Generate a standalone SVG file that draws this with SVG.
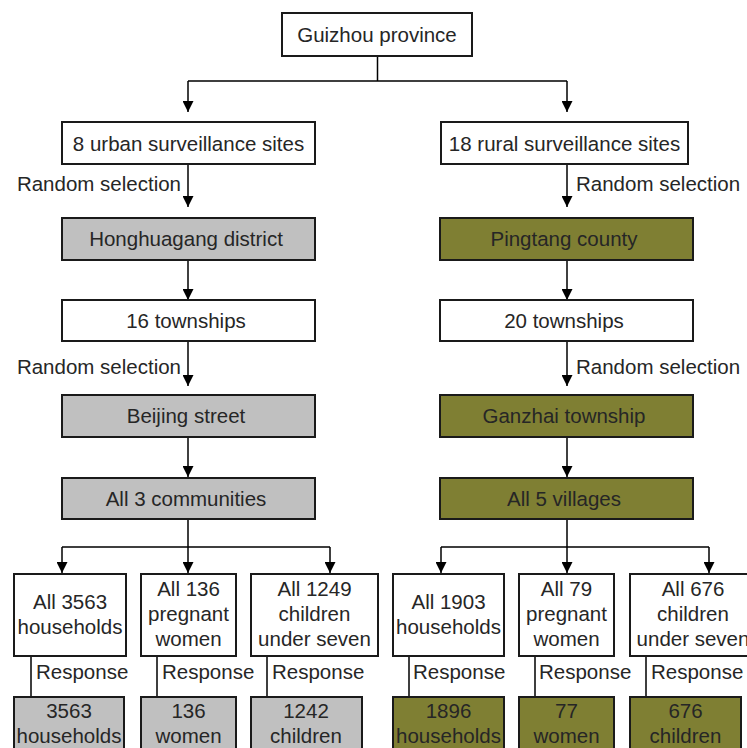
<svg xmlns="http://www.w3.org/2000/svg" width="747" height="748" viewBox="0 0 747 748">
<defs>
<marker id="ah" viewBox="0 0 11 11" refX="11" refY="5.5" markerWidth="11" markerHeight="11" markerUnits="userSpaceOnUse" orient="auto">
<path d="M0,0 L11,5.5 L0,11 Z" fill="#000"/>
</marker>
<style>
.b{stroke:#1a1a1a;stroke-width:2}
.w{fill:#fff}
.g{fill:#c0c0c0}
.o{fill:#7f7f33}
text{font-family:"Liberation Sans",Arial,sans-serif;font-size:20.5px;fill:#262626}
.c{text-anchor:middle}
.e{text-anchor:end}
.ln{fill:none;stroke:#000;stroke-width:1.5}
.ar{fill:none;stroke:#000;stroke-width:1.5}
</style>
</defs>
<rect width="747" height="748" fill="#fff"/>

<g id="connectors">
<path class="ln" d="M377.5,56 V81 M188,81 H567"/>
<path class="ar" d="M188,81 V112" marker-end="url(#ah)"/>
<path class="ar" d="M567,81 V112" marker-end="url(#ah)"/>
<path class="ar" d="M188,164 V207" marker-end="url(#ah)"/>
<path class="ar" d="M567,164 V207" marker-end="url(#ah)"/>
<path class="ar" d="M188,260 V300" marker-end="url(#ah)"/>
<path class="ar" d="M567,260 V300" marker-end="url(#ah)"/>
<path class="ar" d="M188,341 V386" marker-end="url(#ah)"/>
<path class="ar" d="M567,341 V386" marker-end="url(#ah)"/>
<path class="ar" d="M188,437 V477" marker-end="url(#ah)"/>
<path class="ar" d="M567,437 V477" marker-end="url(#ah)"/>
<path class="ln" d="M188,519 V547 M62,547 H330"/>
<path class="ln" d="M567,519 V547 M441,547 H709"/>
<path class="ar" d="M62,547 V573" marker-end="url(#ah)"/>
<path class="ar" d="M188,547 V573" marker-end="url(#ah)"/>
<path class="ar" d="M330,547 V573" marker-end="url(#ah)"/>
<path class="ar" d="M441,547 V573" marker-end="url(#ah)"/>
<path class="ar" d="M567,547 V573" marker-end="url(#ah)"/>
<path class="ar" d="M709,547 V573" marker-end="url(#ah)"/>
<path class="ln" d="M31,656 V697 M157,656 V697 M267,656 V697 M409,656 V697 M535,656 V697 M646,656 V697"/>
<text class="e" x="181" y="191">Random selection</text>
<text x="576" y="191">Random selection</text>
<text class="e" x="181" y="374">Random selection</text>
<text x="576" y="374">Random selection</text>
<text x="36" y="679">Response</text>
<text x="162" y="679">Response</text>
<text x="272" y="679">Response</text>
<text x="413" y="679">Response</text>
<text x="539" y="679">Response</text>
<text x="651" y="679">Response</text>
</g>

<g id="guizhou"><rect class="b w" x="282" y="13" width="190" height="43"/><text class="c" x="377" y="42">Guizhou province</text></g>

<g id="urban"><rect class="b w" x="62" y="122" width="253" height="42"/><text class="c" x="188.5" y="151">8 urban surveillance sites</text></g>
<g id="rural"><rect class="b w" x="441" y="122" width="247" height="42"/><text class="c" x="564.5" y="151">18 rural surveillance sites</text></g>

<g id="honghuagang"><rect class="b g" x="62" y="218" width="253" height="42"/><text class="c" x="186" y="246">Honghuagang district</text></g>
<g id="pingtang"><rect class="b o" x="440" y="218" width="253" height="42"/><text class="c" x="564" y="246">Pingtang county</text></g>

<g id="townships16"><rect class="b w" x="62" y="300" width="253" height="41"/><text class="c" x="186" y="328">16 townships</text></g>
<g id="townships20"><rect class="b w" x="440" y="300" width="253" height="41"/><text class="c" x="564" y="328">20 townships</text></g>

<g id="beijing"><rect class="b g" x="62" y="395" width="253" height="42"/><text class="c" x="186" y="423">Beijing street</text></g>
<g id="ganzhai"><rect class="b o" x="440" y="395" width="253" height="42"/><text class="c" x="564" y="423">Ganzhai township</text></g>

<g id="communities"><rect class="b g" x="62" y="478" width="253" height="41"/><text class="c" x="186" y="506">All 3 communities</text></g>
<g id="villages"><rect class="b o" x="440" y="478" width="253" height="41"/><text class="c" x="564" y="506">All 5 villages</text></g>

<g id="u-households"><rect class="b w" x="14" y="574" width="112" height="82"/><text class="c" x="70" y="609">All 3563</text><text class="c" x="70" y="634">households</text></g>
<g id="u-women"><rect class="b w" x="141" y="574" width="95" height="82"/><text class="c" x="188.5" y="596">All 136</text><text class="c" x="188.5" y="621">pregnant</text><text class="c" x="188.5" y="646">women</text></g>
<g id="u-children"><rect class="b w" x="251" y="574" width="127" height="82"/><text class="c" x="314.5" y="596">All 1249</text><text class="c" x="314.5" y="621">children</text><text class="c" x="314.5" y="646">under seven</text></g>

<g id="r-households"><rect class="b w" x="393" y="574" width="111" height="82"/><text class="c" x="448.5" y="609">All 1903</text><text class="c" x="448.5" y="634">households</text></g>
<g id="r-women"><rect class="b w" x="519" y="574" width="95" height="82"/><text class="c" x="566.5" y="596">All 79</text><text class="c" x="566.5" y="621">pregnant</text><text class="c" x="566.5" y="646">women</text></g>
<g id="r-children"><rect class="b w" x="630" y="574" width="127" height="82"/><text class="c" x="693" y="596">All 676</text><text class="c" x="693" y="621">children</text><text class="c" x="693" y="646">under seven</text></g>

<g id="u-households-resp"><rect class="b g" x="14" y="697" width="110" height="60"/><text class="c" x="69" y="718">3563</text><text class="c" x="69" y="743">households</text></g>
<g id="u-women-resp"><rect class="b g" x="141" y="697" width="95" height="60"/><text class="c" x="188.5" y="718">136</text><text class="c" x="188.5" y="743">women</text></g>
<g id="u-children-resp"><rect class="b g" x="251" y="697" width="111" height="60"/><text class="c" x="306" y="718">1242</text><text class="c" x="306" y="743">children</text></g>

<g id="r-households-resp"><rect class="b o" x="393" y="697" width="111" height="60"/><text class="c" x="448.5" y="718">1896</text><text class="c" x="448.5" y="743">households</text></g>
<g id="r-women-resp"><rect class="b o" x="519" y="697" width="95" height="60"/><text class="c" x="566.5" y="718">77</text><text class="c" x="566.5" y="743">women</text></g>
<g id="r-children-resp"><rect class="b o" x="630" y="697" width="111" height="60"/><text class="c" x="685.5" y="718">676</text><text class="c" x="685.5" y="743">children</text></g>
</svg>
